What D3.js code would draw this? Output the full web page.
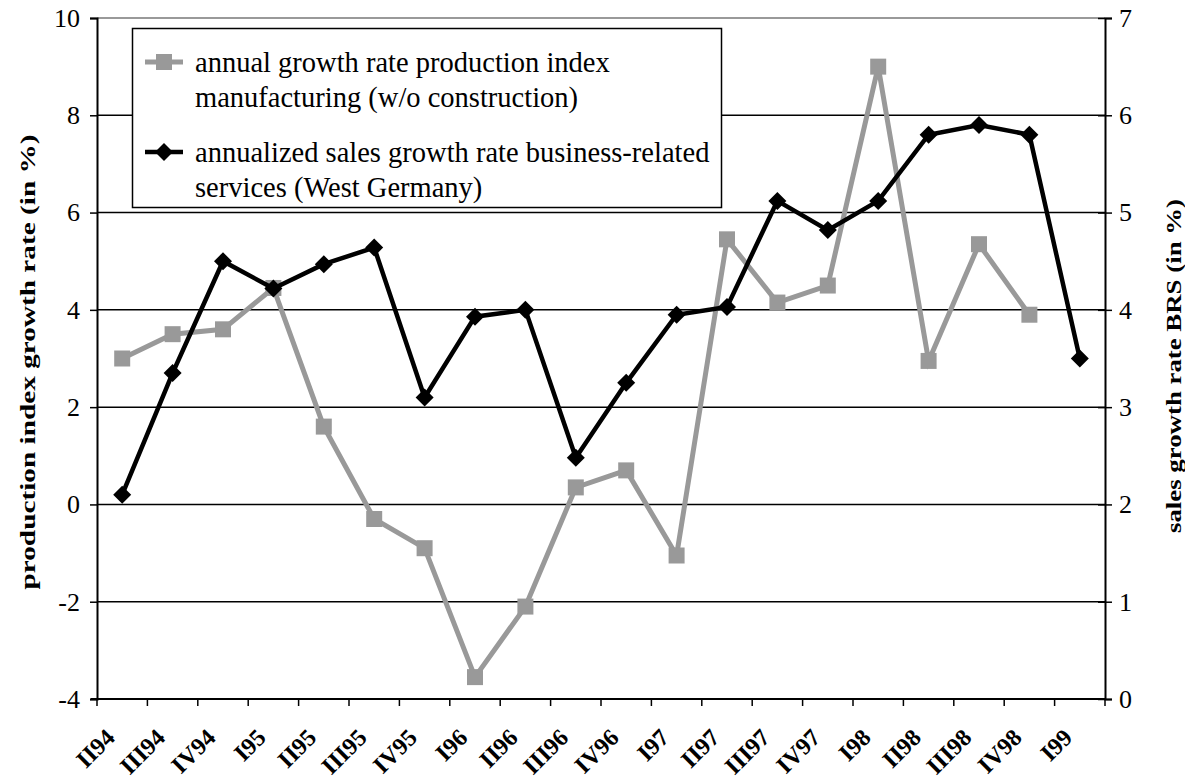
<!DOCTYPE html>
<html>
<head>
<meta charset="utf-8">
<script src="https://cdn.jsdelivr.net/npm/d3@7"></script>
<style>
  body { margin: 0; background: #fff; }
  svg { display: block; font-family: "Liberation Serif", "Times New Roman", serif; }
</style>
</head>
<body>
<svg id="chart" width="1185" height="783"></svg>
<script>
// quarters on the x axis
const quarters = ['II94', 'III94', 'IV94', 'I95', 'II95', 'III95', 'IV95', 'I96', 'II96', 'III96',
  'IV96', 'I97', 'II97', 'III97', 'IV97', 'I98', 'II98', 'III98', 'IV98', 'I99'];

// annual growth rate production index (left axis, %)
const production = [3.0, 3.5, 3.6, 4.45, 1.6, -0.3, -0.9, -3.55, -2.1, 0.35,
  0.7, -1.05, 5.45, 4.15, 4.5, 9.0, 2.95, 5.35, 3.9, null];

// annualized sales growth rate BRS (right axis, %)
const sales = [2.1, 3.35, 4.5, 4.22, 4.47, 4.64, 3.1, 3.93, 4.0, 2.48,
  3.25, 3.95, 4.03, 5.12, 4.82, 5.12, 5.8, 5.9, 5.8, 3.5];

const leftTicks = [-4, -2, 0, 2, 4, 6, 8, 10];
const rightTicks = [0, 1, 2, 3, 4, 5, 6, 7];

const legendItems = [
  {lines: ['annual growth rate production index', 'manufacturing (w/o construction)'], kind: 'prod'},
  {lines: ['annualized sales growth rate business-related', 'services (West Germany)'], kind: 'sales'}
];

const width = 1185, height = 783;
const margin = {top: 18, right: 80, bottom: 84, left: 97};
const gray = '#999999';
const serif = '"Liberation Serif", "Times New Roman", serif';

const svg = d3.select('#chart');

const x = d3.scaleBand()
  .domain(quarters)
  .range([margin.left, width - margin.right]);
const cx = q => x(q) + x.bandwidth() / 2;

const yL = d3.scaleLinear().domain([-4, 10]).range([height - margin.bottom, margin.top]);
const yR = d3.scaleLinear().domain([0, 7]).range([height - margin.bottom, margin.top]);

// gridlines
svg.append('g')
  .selectAll('line')
  .data(leftTicks.filter(d => d > -4))
  .join('line')
  .attr('x1', margin.left)
  .attr('x2', width - margin.right)
  .attr('y1', d => yL(d))
  .attr('y2', d => yL(d))
  .attr('stroke', d => d === 10 ? '#777' : '#000')
  .attr('stroke-width', 1.5);

// left axis
const axL = svg.append('g')
  .attr('transform', `translate(${margin.left},0)`)
  .call(d3.axisLeft(yL).tickValues(leftTicks).tickFormat(d => String(d)).tickSize(7).tickPadding(10));
axL.attr('font-family', null);
axL.select('.domain').attr('stroke-width', 2);
axL.selectAll('.tick line').attr('stroke-width', 1.5);
axL.selectAll('text').style('font-family', serif).attr('font-size', 26).attr('fill', '#000');

// right axis, ticks cross the line
const axR = svg.append('g')
  .attr('transform', `translate(${width - margin.right},0)`)
  .call(d3.axisRight(yR).tickValues(rightTicks).tickFormat(d => String(d)).tickSize(7).tickPadding(7));
axR.attr('font-family', null);
axR.select('.domain').attr('stroke-width', 2);
axR.selectAll('.tick line').attr('x1', -7).attr('stroke-width', 1.5);
axR.selectAll('text').style('font-family', serif).attr('font-size', 26).attr('fill', '#000');

// bottom axis: ticks on band boundaries
const bottomY = height - margin.bottom;
svg.append('line')
  .attr('x1', margin.left - 6).attr('x2', width - margin.right)
  .attr('y1', bottomY).attr('y2', bottomY)
  .attr('stroke', '#000').attr('stroke-width', 2);
svg.append('g')
  .selectAll('line')
  .data(quarters)
  .join('line')
  .attr('x1', d => x(d)).attr('x2', d => x(d))
  .attr('y1', bottomY).attr('y2', bottomY + 7)
  .attr('stroke', '#000').attr('stroke-width', 1.5);
svg.append('line')
  .attr('x1', width - margin.right).attr('x2', width - margin.right)
  .attr('y1', bottomY).attr('y2', bottomY + 7)
  .attr('stroke', '#000').attr('stroke-width', 1.5);

// rotated quarter labels
const xLabels = svg.append('g')
  .selectAll('g')
  .data(quarters)
  .join('g')
  .attr('transform', d => `translate(${cx(d) - 12},${bottomY + 34})`);
xLabels.append('text')
  .attr('transform', 'rotate(-45)')
  .attr('text-anchor', 'end')
  .attr('dy', '0.35em')
  .style('font-family', serif)
  .attr('font-weight', 'bold')
  .attr('font-size', 24)
  .text(d => d);

// axis titles
svg.append('text')
  .attr('transform', 'translate(27,362) rotate(-90)')
  .attr('text-anchor', 'middle')
  .attr('dy', '0.35em')
  .style('font-family', serif)
  .attr('font-weight', 'bold')
  .attr('font-size', 22)
  .attr('textLength', 455)
  .attr('lengthAdjust', 'spacingAndGlyphs')
  .text('production index growth rate (in %)');

svg.append('text')
  .attr('transform', 'translate(1173,366) rotate(-90)')
  .attr('text-anchor', 'middle')
  .attr('dy', '0.35em')
  .style('font-family', serif)
  .attr('font-weight', 'bold')
  .attr('font-size', 22)
  .attr('textLength', 334)
  .attr('lengthAdjust', 'spacingAndGlyphs')
  .text('sales growth rate BRS (in %)');

// series
const prodPts = quarters.map((q, i) => ({q, v: production[i]})).filter(d => d.v !== null);
const salesPts = quarters.map((q, i) => ({q, v: sales[i]}));

const lineProd = d3.line().x(d => cx(d.q)).y(d => yL(d.v));
const lineSales = d3.line().x(d => cx(d.q)).y(d => yR(d.v));

const square = d3.symbol().type(d3.symbolSquare).size(256);
const diamond = 'M0,-9L9,0L0,9L-9,0Z';

svg.append('path')
  .datum(prodPts)
  .attr('d', lineProd)
  .attr('fill', 'none')
  .attr('stroke', gray)
  .attr('stroke-width', 5)
  .attr('stroke-linejoin', 'miter');

svg.append('g')
  .selectAll('path')
  .data(prodPts)
  .join('path')
  .attr('transform', d => `translate(${cx(d.q)},${yL(d.v)})`)
  .attr('d', square)
  .attr('fill', gray);

svg.append('path')
  .datum(salesPts)
  .attr('d', lineSales)
  .attr('fill', 'none')
  .attr('stroke', '#000')
  .attr('stroke-width', 4.5)
  .attr('stroke-linejoin', 'miter');

svg.append('g')
  .selectAll('path')
  .data(salesPts)
  .join('path')
  .attr('transform', d => `translate(${cx(d.q)},${yR(d.v)})`)
  .attr('d', diamond)
  .attr('fill', '#000');

// legend
const lg = svg.append('g');
lg.append('rect')
  .attr('x', 132.5).attr('y', 28.5)
  .attr('width', 589).attr('height', 179)
  .attr('fill', '#fff')
  .attr('stroke', '#000')
  .attr('stroke-width', 1.5);

legendItems.forEach((item, i) => {
  const y0 = 62 + i * 90;
  const g = lg.append('g');
  g.append('line')
    .attr('x1', 145).attr('x2', 183)
    .attr('y1', y0).attr('y2', y0)
    .attr('stroke', item.kind === 'prod' ? gray : '#000')
    .attr('stroke-width', item.kind === 'prod' ? 5 : 4.5);
  g.append('path')
    .attr('transform', `translate(164,${y0})`)
    .attr('d', item.kind === 'prod' ? square : diamond)
    .attr('fill', item.kind === 'prod' ? gray : '#000');
  g.selectAll('text')
    .data(item.lines)
    .join('text')
    .attr('x', 195)
    .attr('y', (d, j) => y0 + j * 35)
    .attr('dy', '0.35em')
    .style('font-family', serif)
    .attr('font-size', 28.5)
    .text(d => d);
});
</script>
</body>
</html>
